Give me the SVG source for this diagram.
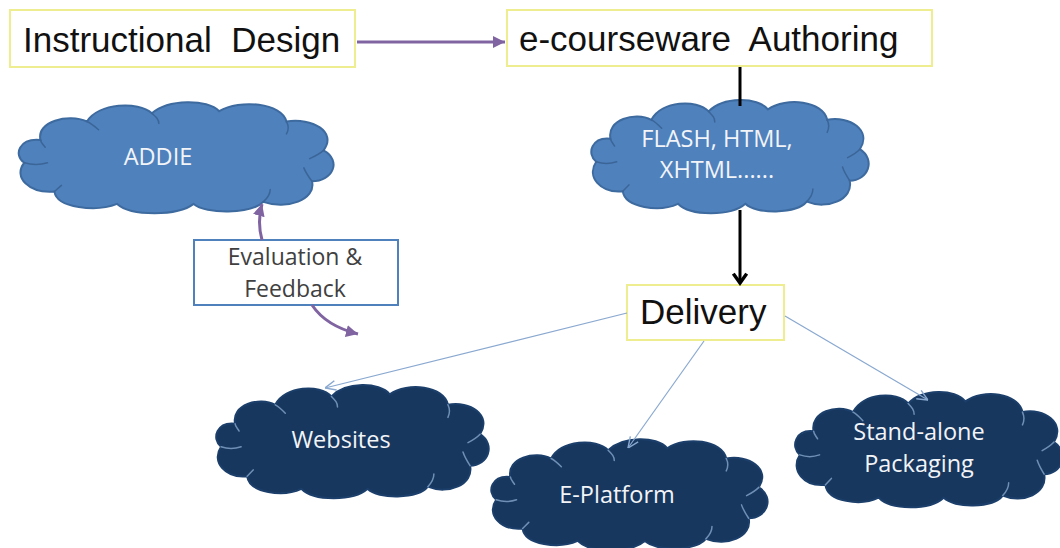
<svg xmlns="http://www.w3.org/2000/svg" width="1060" height="548" viewBox="0 0 1060 548">
<style>
.box{fill:#ffffff;stroke:#eeee90;stroke-width:2}
.big{font-family:"Liberation Sans",Arial,sans-serif;font-size:35px;fill:#111111}
.ctext{font-family:"Open Sans",Lato,sans-serif;font-size:23.5px;fill:#f2f4f8;text-anchor:middle}
.etext{font-family:"Open Sans",Lato,sans-serif;font-size:23px;fill:#404040;text-anchor:middle}
.light{fill:#4f81bd;stroke:#3d6a9f;stroke-width:2}
.dark{fill:#17375e;stroke:#1b3f6a;stroke-width:2}
.innerL{fill:none;stroke-width:1.5;stroke-linecap:round;stroke:#3b6597}
.innerD{fill:none;stroke-width:1.5;stroke-linecap:round;stroke:#6f8fb5}
.purple{fill:none;stroke:#8064a2;stroke-width:3}
.black{fill:none;stroke:#000000;stroke-width:3}
.blue{fill:none;stroke:#89a8d0;stroke-width:1.2}
</style>
<defs>
<path id="cloud" vector-effect="non-scaling-stroke" d="M 10 64 C 0 56, 6 40, 24 42 C 20 24, 48 16, 64 24 C 74 6, 108 4, 120 16 C 134 2, 168 2, 178 14 C 196 2, 232 6, 236 24 C 258 20, 280 34, 268 52 C 284 62, 276 82, 258 82 C 262 100, 236 110, 216 102 C 206 114, 166 114, 156 104 C 142 116, 102 116, 90 104 C 72 112, 38 108, 36 92 C 14 94, 0 78, 10 64 Z"/>
<path id="cloudIn" vector-effect="non-scaling-stroke" d="M 10 64 C 16 66, 24 66, 30 64 M 36 92 C 38 90, 40 88, 42 86 M 216 102 C 220 98, 222 94, 222 90 M 258 82 C 254 76, 252 72, 251 69 M 268 52 C 264 56, 260 58, 256 60 M 236 24 C 238 28, 238 32, 236 36 M 120 16 C 124 20, 126 22, 126 26 M 64 24 C 68 26, 72 30, 74 32 M 24 42 C 24 44, 26 46, 28 49"/>
<marker id="pArrow" markerUnits="userSpaceOnUse" markerWidth="12" markerHeight="12" refX="10" refY="5" orient="auto" viewBox="0 0 10 10">
<path d="M0,0 L10,5 L0,10 z" fill="#8064a2"/>
</marker>
<marker id="bArrow" markerUnits="userSpaceOnUse" markerWidth="16" markerHeight="16" refX="9" refY="6" orient="auto" viewBox="0 0 12 12">
<path d="M2,1 L9,6 L2,11" fill="none" stroke="#000" stroke-width="2.6"/>
</marker>
<marker id="lArrow" markerUnits="userSpaceOnUse" markerWidth="12" markerHeight="12" refX="10" refY="5" orient="auto" viewBox="0 0 10 10">
<path d="M1,1 L10,5 L1,9" fill="none" stroke="#89a8d0" stroke-width="1.2"/>
</marker>
</defs>

<g id="instructional-design">
<rect class="box" x="10" y="10" width="345" height="57"/>
<text class="big" x="23" y="52" xml:space="preserve">Instructional  Design</text>
</g>

<g id="e-courseware-authoring">
<rect class="box" x="507" y="10" width="425" height="56"/>
<text class="big" x="519" y="51" xml:space="preserve">e-courseware  Authoring</text>
</g>

<g id="addie">
<g transform="translate(12.7,96.8) scale(1.16,1.03)">
<use href="#cloud" class="light"/>
<use href="#cloudIn" class="innerL"/>
</g>
<text class="ctext" x="158" y="165">ADDIE</text>
</g>

<g id="flash">
<g transform="translate(586,94.6) scale(1.022,1.05)">
<use href="#cloud" class="light"/>
<use href="#cloudIn" class="innerL"/>
</g>
<text class="ctext" x="717" y="147">FLASH, HTML,</text>
<text class="ctext" x="717" y="178">XHTML......</text>
</g>

<g id="evaluation-feedback">
<rect x="194" y="240" width="204" height="65" fill="#ffffff" stroke="#4f81bd" stroke-width="2"/>
<text class="etext" x="295" y="265">Evaluation &amp;</text>
<text class="etext" x="295" y="297">Feedback</text>
</g>

<g id="delivery">
<rect class="box" x="627" y="285" width="157" height="55"/>
<text class="big" x="640" y="324">Delivery</text>
</g>

<g id="websites">
<g transform="translate(211,379.6) scale(1.004,1.05)">
<use href="#cloud" class="dark"/>
<use href="#cloudIn" class="innerD"/>
</g>
<text class="ctext" x="341" y="448">Websites</text>
</g>

<g id="e-platform">
<g transform="translate(486,433.8) scale(1.018,1.03)">
<use href="#cloud" class="dark"/>
<use href="#cloudIn" class="innerD"/>
</g>
<text class="ctext" x="617" y="503">E-Platform</text>
</g>

<g id="stand-alone-packaging">
<g transform="translate(790,386.4) scale(0.985,1.07)">
<use href="#cloud" class="dark"/>
<use href="#cloudIn" class="innerD"/>
</g>
<text class="ctext" x="919" y="440">Stand-alone</text>
<text class="ctext" x="919" y="472">Packaging</text>
</g>

<g id="connectors">
<line class="purple" x1="357" y1="42" x2="505" y2="42" marker-end="url(#pArrow)"/>
<line class="black" x1="740" y1="67" x2="740" y2="106"/>
<line class="black" x1="740" y1="210" x2="740" y2="283" marker-end="url(#bArrow)"/>
<path class="purple" d="M 262 240 Q 257 222 262 204" marker-end="url(#pArrow)"/>
<path class="purple" d="M 312 305 Q 326 326 358 334" marker-end="url(#pArrow)"/>
<line class="blue" x1="627" y1="313" x2="325" y2="388" marker-end="url(#lArrow)"/>
<line class="blue" x1="704" y1="341" x2="628" y2="448" marker-end="url(#lArrow)"/>
<line class="blue" x1="785" y1="316" x2="928" y2="400" marker-end="url(#lArrow)"/>
</g>
</svg>
